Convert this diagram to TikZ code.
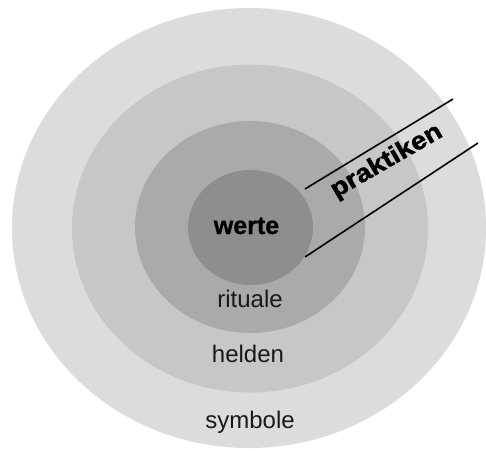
\documentclass[tikz,border=0pt]{standalone}
\usepackage{fontspec}
\setmainfont{Liberation Sans}
\newfontfamily\heavyfont[FakeBold=1.6,FakeStretch=1.12]{Liberation Sans Bold}
\newfontfamily\semiheavy[FakeBold=0.8]{Liberation Sans Bold}
\definecolor{ringA}{RGB}{220,220,220}
\definecolor{ringB}{RGB}{199,199,199}
\definecolor{ringC}{RGB}{170,170,170}
\definecolor{ringD}{RGB}{142,142,142}
\begin{document}
\begin{tikzpicture}[x=1pt,y=-1pt,
  ringlabel/.style={anchor=base,inner sep=0pt,font=\fontsize{24}{28}\selectfont,text=black!90},
  boldlabel/.style={anchor=base,inner sep=0pt,font=\fontsize{25}{29}\selectfont\semiheavy},
  slash/.style={line width=1.6pt,black}]
\useasboundingbox (0,0) rectangle (486,450);
\fill[white] (0,0) rectangle (486,450);
\fill[ringA] (249,228) ellipse [x radius=237, y radius=220];
\fill[ringB] (250,228.5) ellipse [x radius=178, y radius=164];
\fill[ringC] (250,227) ellipse [x radius=115, y radius=106];
\fill[ringD] (250.5,227.5) ellipse [x radius=62.5, y radius=57.5];
\coordinate (t1) at (305,189);
\coordinate (t2) at (453,99);
\coordinate (b1) at (305,257);
\coordinate (b2) at (478,143);
\draw[slash] (t1) -- (t2);
\draw[slash] (b1) -- (b2);
\node[boldlabel] (werte) at (246.5,234) {werte};
\node[ringlabel] (rituale) at (250,307.5) {rituale};
\node[ringlabel] (helden) at (248,362) {helden};
\node[ringlabel] (symbole) at (250,428) {symbole};
\node[anchor=base,inner sep=0pt,rotate=30,font=\fontsize{25}{29}\selectfont\heavyfont] (praktiken) at (390,167) {praktiken};
\end{tikzpicture}
\end{document}
